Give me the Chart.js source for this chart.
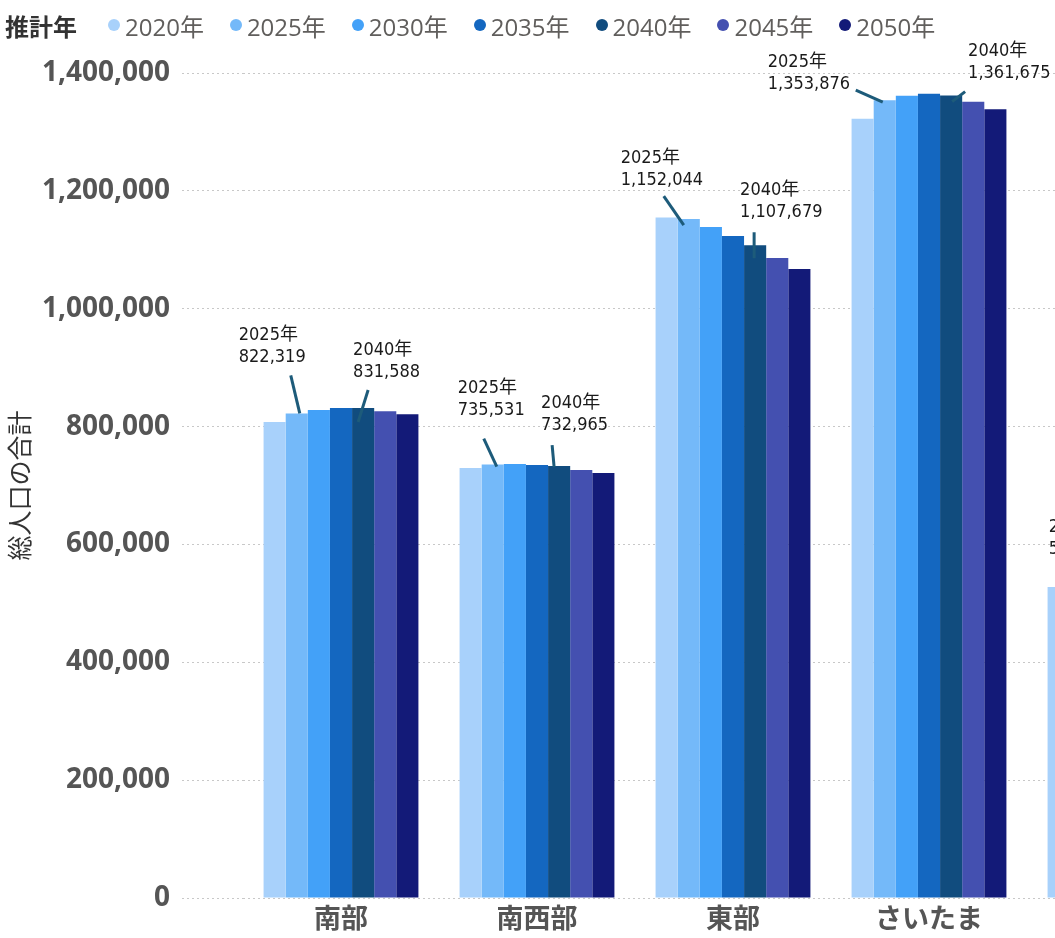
<!DOCTYPE html>
<html lang="ja">
<head>
<meta charset="utf-8">
<script src="https://cdn.jsdelivr.net/npm/chart.js@4.4.1/dist/chart.umd.min.js"></script>
<style>
  html, body { margin: 0; padding: 0; background: #fff; width: 1055px; height: 938px; overflow: hidden; }
  #wrap { position: relative; width: 1240px; height: 938px; }
  #legend { position: absolute; left: 5px; top: 0; height: 50px; display: flex; align-items: center;
            font-family: "Open Sans", "Noto Sans CJK JP", sans-serif; font-size: 24px; color: #605e5c; z-index: 2; }
  #legend .ttl { font-weight: bold; color: #333; margin-right: 31px; }
  #legend .item { display: flex; align-items: center; margin-right: 26px; }
  #legend .dot { width: 12px; height: 12px; border-radius: 50%; margin-right: 5px; }
</style>
</head>
<body>
<div id="wrap">
  <div id="legend"><span class="ttl">推計年</span></div>
  <canvas id="myChart"></canvas>
</div>
<script>
// data
const categories = ['南部', '南西部', '東部', 'さいたま', '県央'];
const years = ['2020年', '2025年', '2030年', '2035年', '2040年', '2045年', '2050年'];
const v2020 = [807700, 729700, 1155000, 1322400, 527700];
const v2025 = [822319, 735531, 1152044, 1353876, 526100];
const v2030 = [828000, 736500, 1138600, 1361400, 521000];
const v2035 = [831500, 734800, 1123400, 1364800, 514000];
const v2040 = [831588, 732965, 1107679, 1361675, 505000];
const v2045 = [826000, 726300, 1086000, 1351300, 494000];
const v2050 = [821000, 721200, 1067400, 1338300, 482000];
const yTicks = [0, 200000, 400000, 600000, 800000, 1000000, 1200000, 1400000];

const seriesValues = [v2020, v2025, v2030, v2035, v2040, v2045, v2050];
const colors = ['#a8d1fb', '#74b9f9', '#43a1f8', '#1467c0', '#114c7e', '#4450b0', '#131a78'];

// which years get a callout label
const calloutYears = ['2025年', '2040年'];
// label placement per category: [textDx, firstLineDy, lineStartDx, lineStartDy, lineEndDx, lineEndDy]
const calloutOffsets = [
    [[-58, -78, -6, -38, 3, 0], [-10, -58, 5, -18, -5, 14]],
    [[-35, -76, -9, -26, 4, 2], [-18, -63, -7, -21, -5, 1]],
    [[-68, -61, -25, -23, -5, 6], [-15, -55, -1, -13, -1, 13]],
    [[-117, -38, -29, -10, -2, 2], [17, -44, 14, -4, 1, 6]],
    [[-32, -61, -8, -25, 0, 0], [-15, -55, -1, -13, -1, 13]]
];

// html legend
const legendEl = document.getElementById('legend');
years.forEach((y, i) => {
    const item = document.createElement('span');
    item.className = 'item';
    item.innerHTML = '<span class="dot" style="background:' + colors[i] + '"></span>' + y;
    legendEl.appendChild(item);
});

const calloutPlugin = {
    id: 'callouts',
    afterDatasetsDraw(chart) {
        const ctx = chart.ctx;
        ctx.save();
        ctx.font = '18px "DejaVu Sans Condensed", "Liberation Sans Narrow", "Noto Sans CJK JP", sans-serif';
        ctx.textAlign = 'left';
        ctx.textBaseline = 'middle';
        calloutYears.forEach((yr, k) => {
            const di = years.indexOf(yr);
            const meta = chart.getDatasetMeta(di);
            categories.forEach((c, i) => {
                const bar = meta.data[i];
                const o = calloutOffsets[i][k];
                ctx.strokeStyle = '#1d5b7a';
                ctx.lineWidth = 3;
                ctx.beginPath();
                ctx.moveTo(bar.x + o[2], bar.y + o[3]);
                ctx.lineTo(bar.x + o[4], bar.y + o[5]);
                ctx.stroke();
                ctx.fillStyle = '#1a1a1a';
                ctx.fillText(yr, bar.x + o[0], bar.y + o[1]);
                ctx.fillText(seriesValues[di][i].toLocaleString('en-US'), bar.x + o[0], bar.y + o[1] + 22);
            });
        });
        ctx.restore();
    }
};

const ctx = document.getElementById('myChart').getContext('2d');
const myChart = new Chart(ctx, {
    type: 'bar',
    data: {
        labels: categories,
        datasets: years.map((y, i) => ({
            label: y,
            data: seriesValues[i],
            backgroundColor: colors[i],
            borderWidth: 0,
            categoryPercentage: 0.79,
            barPercentage: 1.0
        }))
    },
    options: {
        responsive: true,
        maintainAspectRatio: false,
        animation: false,
        layout: { padding: { top: 73, left: 0, right: 17, bottom: 0 } },
        plugins: {
            legend: { display: false },
            tooltip: { enabled: false }
        },
        scales: {
            x: {
                afterFit: (scale) => { scale.height = 40; },
                grid: { display: false, drawTicks: false },
                border: { display: false },
                ticks: {
                    padding: 6,
                    color: '#555',
                    font: { family: '"Open Sans", "Noto Sans CJK JP", sans-serif', size: 27, weight: 'bold' }
                }
            },
            y: {
                min: 0,
                max: 1400000,
                afterBuildTicks: (scale) => { scale.ticks = yTicks.map(v => ({ value: v })); },
                afterFit: (scale) => { scale.width = 243; },
                grid: {
                    color: '#c8c8c8',
                    lineWidth: 1,
                    drawTicks: true,
                    tickLength: 61,
                    tickColor: '#c8c8c8',
                    tickBorderDash: [2, 3]
                },
                border: { display: false, dash: [2, 3] },
                ticks: {
                    padding: 12,
                    color: '#555',
                    font: { family: '"Open Sans", sans-serif', size: 28, weight: 'bold' },
                    callback: (v) => v.toLocaleString('en-US')
                },
                title: {
                    display: true,
                    text: '総人口の合計',
                    color: '#333',
                    font: { family: '"Noto Sans CJK JP", sans-serif', size: 25 }
                }
            }
        }
    },
    plugins: [calloutPlugin]
});
</script>
</body>
</html>
